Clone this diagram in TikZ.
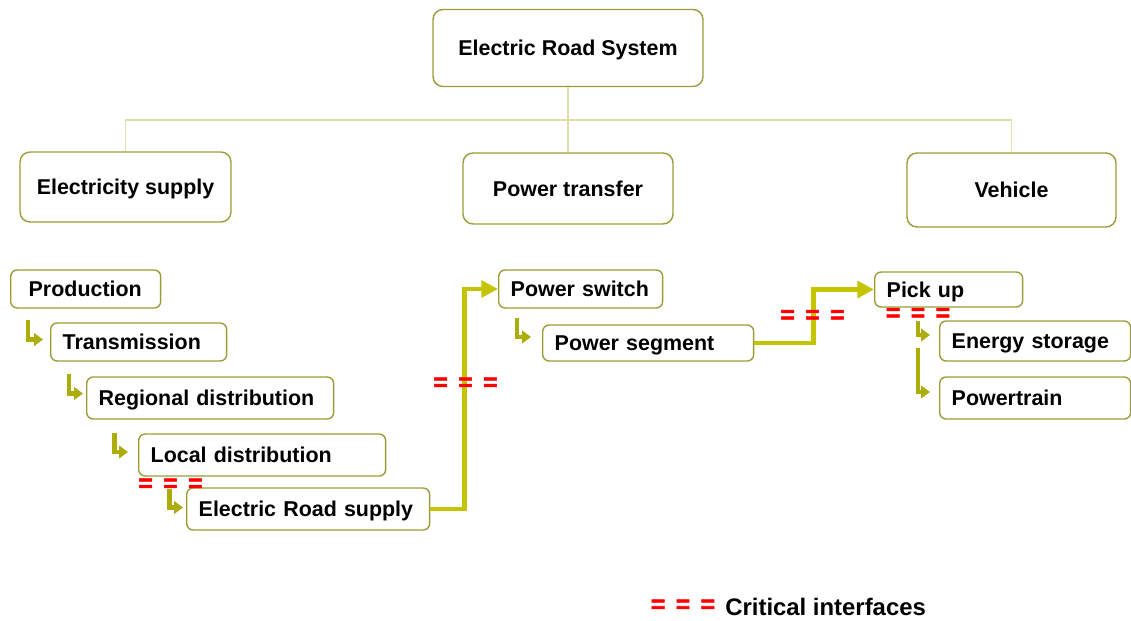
\documentclass[tikz,border=0pt]{standalone}
\usepackage{fontspec}
\setmainfont{Liberation Sans}
\newfontfamily\critfont[UprightFont={* Bold}, FakeBold=2.2]{Liberation Sans}
\usepackage{tikz}
\usetikzlibrary{
  calc,        % Offsets from node anchors
  arrows.meta  % Triangle tips
}

\definecolor{boxolive}{RGB}{155,155,55}
\definecolor{linkolive}{RGB}{196,196,0}
\definecolor{treeolive}{RGB}{222,222,170}
\definecolor{elbowolive}{RGB}{172,172,10}
\definecolor{critred}{RGB}{255,0,0}

\newcommand{\critmark}{=\hspace{6pt}=\hspace{6pt}=}

\begin{document}
\begin{tikzpicture}[x=0.02cm, y=-0.02cm,
  font=\fontsize{12.2}{14}\selectfont\bfseries,
  topbox/.style={draw=boxolive, line width=0.8pt, rounded corners=0.2cm, align=center,
    text height=8.7pt, text depth=0pt},
  itembox/.style={draw=boxolive, line width=0.8pt, rounded corners=0.13cm, anchor=west,
    align=left, inner xsep=0.24cm, inner ysep=0pt, text height=8.7pt, text depth=0pt},
  tree/.style={treeolive, line width=0.7pt},
  link/.style={linkolive, line width=2.8pt, -{Triangle[length=9.5pt, width=9.5pt]}},
  elbow/.style={elbowolive, line width=2.6pt, -{Triangle[length=5pt, width=7pt]}},
  crit/.style={text=critred, inner sep=0pt, font=\fontsize{14}{16}\critfont\mdseries}]

  % Page frame
  \useasboundingbox (0,0) rectangle (1131,621);

  % Top level boxes
  \node[topbox, minimum width=5.4cm, minimum height=1.54cm] (ers) at (568,48) {Electric Road System};
  \node[topbox, minimum width=4.22cm, minimum height=1.4cm] (supply) at (125.5,187) {Electricity supply};
  \node[topbox, minimum width=4.2cm, minimum height=1.42cm] (transfer) at (568,188.5) {Power transfer};
  \node[topbox, minimum width=4.18cm, minimum height=1.48cm] (vehicle) at (1011.5,190) {Vehicle};

  % Tree lines
  \coordinate (bus) at (568,120);
  \draw[tree] (ers.south) -- (bus);
  \draw[tree] (supply.north) |- (bus) -| (vehicle.north);
  \draw[tree] (bus) -- (transfer.north);

  % Electricity supply chain
  \node[itembox, inner xsep=0.36cm, text width=2.28cm, minimum height=0.76cm] (prod) at (10,289) {Production};
  \node[itembox, text width=3.04cm, minimum height=0.76cm] (trans) at (50,342) {Transmission};
  \node[itembox, text width=4.46cm, minimum height=0.84cm] (regional) at (86,398) {Regional distribution};
  \node[itembox, text width=4.46cm, minimum height=0.84cm] (local) at (138,455) {Local distribution};
  \node[itembox, text width=4.38cm, minimum height=0.84cm] (ersupply) at (186,509) {Electric Road supply};

  % Power transfer chain
  \node[itembox, text width=2.8cm, minimum height=0.76cm] (pswitch) at (498,289) {Power switch};
  \node[itembox, text width=3.74cm, minimum height=0.72cm] (pseg) at (542,343) {Power segment};

  % Vehicle chain
  \node[itembox, text width=2.48cm, minimum height=0.7cm] (pickup) at (874,289.5) {Pick up};
  \node[itembox, text width=3.34cm, minimum height=0.8cm] (storage) at (939,341) {Energy storage};
  \node[itembox, text width=3.34cm, minimum height=0.84cm] (ptrain) at (939,398) {Powertrain};

  % Small elbow arrows
  \draw[elbow] ($(prod.south west)+(18,11)$) |- ($(trans.west)+(-7,-2.5)$);
  \draw[elbow] ($(trans.south west)+(19,12)$) |- ($(regional.west)+(-3,-4.5)$);
  \draw[elbow] ($(regional.south west)+(28.5,13)$) |- ($(local.west)+(-10,-3)$);
  \draw[elbow] ($(local.south west)+(31.5,12)$) |- ($(ersupply.west)+(-3,-1.5)$);
  \draw[elbow] ($(pswitch.south west)+(19,9)$) |- ($(pseg.west)+(-11,-6)$);
  \draw[elbow] ($(pickup.south west)+(44,13)$) |- ($(storage.west)+(-9,-6)$);
  \draw[elbow] ($(pickup.south west)+(44,40)$) |- ($(ptrain.west)+(-9,-6)$);

  % Links between the chains
  \draw[link] (ersupply.east) -- ++(34,0) |- (pswitch.west);
  \draw[link] (pseg.east) -- ++(59,0) |- (pickup.west);

  % Critical interfaces
  \node[crit] (crit1) at (465.5,384) {\critmark};
  \node[crit] (crit2) at (812.5,316.5) {\critmark};
  \node[crit] (crit3) at (918,314.5) {\critmark};
  \node[crit] (crit4) at (170.5,485) {\critmark};

  % Legend
  \node[crit] (critkey) at (683,606) {\critmark};
  \node[anchor=west, inner sep=0pt, font=\fontsize{13.6}{16}\selectfont\bfseries] (legend) at (725,607) {Critical interfaces};
\end{tikzpicture}
\end{document}
